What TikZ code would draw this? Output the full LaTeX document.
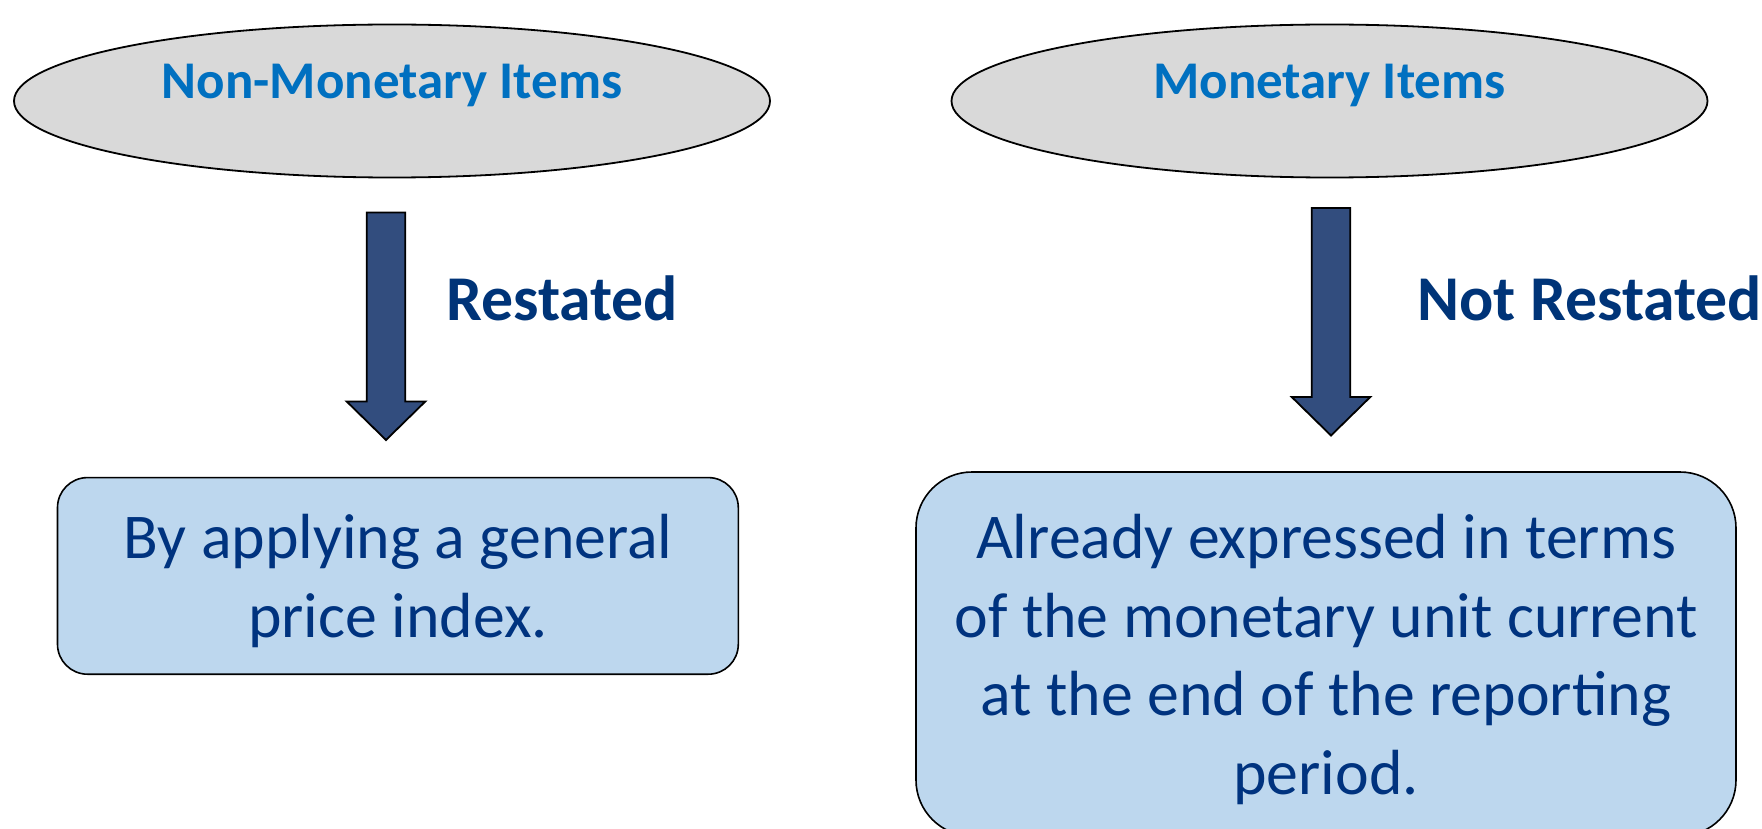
\documentclass[tikz,border=0pt]{standalone}
\usepackage{fontspec}
\setmainfont{Carlito}
\usetikzlibrary{shapes.geometric}
\definecolor{ellfill}{HTML}{D9D9D9}
\definecolor{elltext}{HTML}{0070C0}
\definecolor{arrowfill}{HTML}{324D7E}
\definecolor{labtext}{HTML}{003478}
\definecolor{boxfill}{HTML}{BDD7EE}
\definecolor{boxtext}{HTML}{00337F}
\begin{document}
\begin{tikzpicture}[x=1pt,y=-1pt,
  ell/.style={ellipse, draw=black, fill=ellfill, line width=1.8pt, minimum width=756pt, minimum height=153pt, inner sep=0pt},
  elltxt/.style={anchor=base, text=elltext, font=\fontsize{53}{64}\selectfont\bfseries, inner sep=0pt},
  blockarrow/.style={draw=black, fill=arrowfill, line width=1.8pt, line join=miter},
  labtxt/.style={anchor=base west, text=labtext, font=\fontsize{63.8}{77}\selectfont\bfseries, inner sep=0pt},
  resbox/.style={draw=black, fill=boxfill, line width=1.6pt, inner sep=0pt},
  boxtxt/.style={text=boxtext, font=\fontsize{63.8}{78.7}\selectfont, align=center, inner sep=0pt}
]
\useasboundingbox (0,0) rectangle (1762,829);
% ellipses
\node[ell] (nonmon) at (392,101) {};
\node[elltxt] (nonmontxt) at (392,99) {Non-Monetary Items};
\node[ell] (mon) at (1329.5,101) {};
\node[elltxt] (montxt) at (1329.5,99) {Monetary Items};
% left block arrow
\coordinate (la) at (386,212.5);
\draw[blockarrow] (la) ++(-19.3,0) -- ++(38.6,0) -- ++(0,189) -- ++(20,0) -- ++(-39.3,38.5) -- ++(-39.3,-38.5) -- ++(20,0) -- cycle;
% right block arrow
\coordinate (ra) at (1331,208);
\draw[blockarrow] (ra) ++(-19.3,0) -- ++(38.6,0) -- ++(0,189) -- ++(20,0) -- ++(-39.3,38.5) -- ++(-39.3,-38.5) -- ++(20,0) -- cycle;
% labels
\node[labtxt] (restated) at (446,320.7) {Restated};
\node[labtxt] (notrestated) at (1417,320.7) {Not Restated};
% boxes
\draw[resbox, rounded corners=30pt] (57.5,477.6) rectangle (738.3,674.2);
\node[boxtxt, anchor=base] (lefttxt) at (398,637.2) {By applying a general\\price index.};
\draw[resbox, rounded corners=56pt] (916,472) rectangle (1736,836);
\node[boxtxt, anchor=base] (righttxt) at (1326,794.6) {Already expressed in terms\\of the monetary unit current\\at the end of the reporting\\period.};
\end{tikzpicture}
\end{document}
